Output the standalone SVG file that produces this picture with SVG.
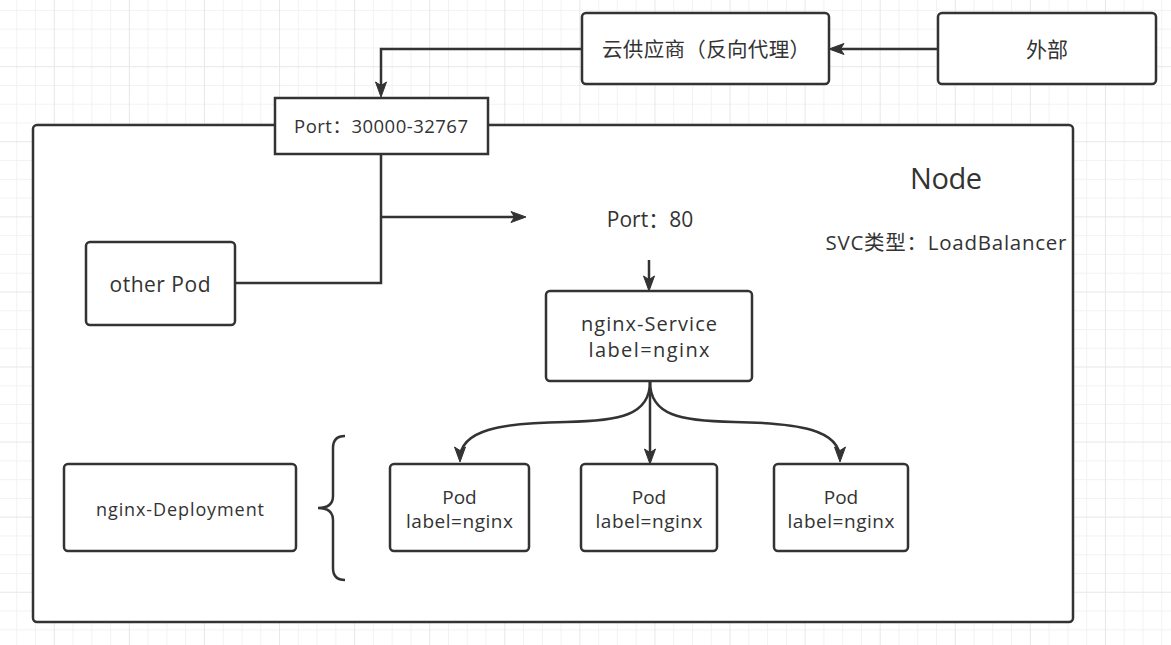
<svg xmlns="http://www.w3.org/2000/svg" width="1171" height="645" viewBox="0 0 1171 645">
<defs>
<style>
.box{fill:#ffffff;stroke:#333333;stroke-width:2.5}
.edge{fill:none;stroke:#333333;stroke-width:2.5}
.arr{marker-end:url(#ah)}
text{font-family:"Open Sans","Noto Sans CJK SC",sans-serif;fill:#333333;text-anchor:middle}
</style>
<pattern id="grid" patternUnits="userSpaceOnUse" x="53.8" y="66.2" width="75.08" height="75.08">
<path d="M19.27,0V75.08M38.04,0V75.08M56.81,0V75.08M0,19.27H75.08M0,38.04H75.08M0,56.81H75.08" stroke="#f2f2f2" stroke-width="1" fill="none"/>
<path d="M0.5,0V75.08M0,0.5H75.08" stroke="#e7e7e7" stroke-width="1" fill="none"/>
</pattern>
<marker id="ah" markerUnits="userSpaceOnUse" markerWidth="16" markerHeight="12" refX="12" refY="5.5" orient="auto" overflow="visible">
<path d="M0,0 L15,5.5 L0,11 L3.5,5.5 Z" fill="#333333" stroke="#333333" stroke-width="1"/>
</marker>
</defs>
<rect width="1171" height="645" fill="#ffffff"/>
<rect width="1171" height="645" fill="url(#grid)"/>

<g id="node-box">
<rect class="box" x="33" y="125" width="1040" height="497" rx="4"/>
<text x="946" y="189" font-size="29" textLength="72">Node</text>
<text x="946" y="250" font-size="20.5" textLength="241">SVC类型：LoadBalancer</text>
</g>

<g id="connectors">
<path class="edge arr" d="M938,49 L832,49"/>
<path class="edge arr" d="M582,49 L381,49 L381,94"/>
<path class="edge" d="M381,154 L381,283 L235,283"/>
<path class="edge arr" d="M381,217 L523,217"/>
<path class="edge arr" d="M649,260 L649,288"/>
<path class="edge arr" d="M650,382 L650,461"/>
<path class="edge arr" d="M650,382 C650,415 620,421 566,422 C500,423 460,430 460,459"/>
<path class="edge arr" d="M650,382 C650,415 680,421 734,422 C800,423 840,430 840,459"/>
</g>

<g id="cloud">
<rect class="box" x="582" y="13" width="247" height="71" rx="4"/>
<text x="706" y="57" font-size="20.5" textLength="208">云供应商（反向代理）</text>
</g>

<g id="external">
<rect class="box" x="938" y="13" width="218" height="71" rx="4"/>
<text x="1047" y="57" font-size="21">外部</text>
</g>

<g id="port-nodeport">
<rect class="box" x="275" y="98" width="213" height="56"/>
<text x="381" y="132.5" font-size="18.5" textLength="174">Port：30000-32767</text>
</g>

<g id="port-80">
<text x="650" y="226.5" font-size="21">Port：80</text>
</g>

<g id="other-pod">
<rect class="box" x="86" y="242" width="149" height="83" rx="4"/>
<text x="160" y="291.5" font-size="21" textLength="101">other Pod</text>
</g>

<g id="nginx-service">
<rect class="box" x="546" y="291" width="206" height="90" rx="4"/>
<text x="649" y="331" font-size="20" textLength="136">nginx-Service</text>
<text x="649" y="357" font-size="20" textLength="121">label=nginx</text>
</g>

<g id="pod-1">
<rect class="box" x="390" y="464" width="139" height="87" rx="4"/>
<text x="459.5" y="504" font-size="19">Pod</text>
<text x="459.5" y="527.5" font-size="19" textLength="107">label=nginx</text>
</g>

<g id="pod-2">
<rect class="box" x="581" y="464" width="136" height="87" rx="4"/>
<text x="649" y="504" font-size="19">Pod</text>
<text x="649" y="527.5" font-size="19" textLength="107">label=nginx</text>
</g>

<g id="pod-3">
<rect class="box" x="774" y="464" width="134" height="87" rx="4"/>
<text x="841" y="504" font-size="19">Pod</text>
<text x="841" y="527.5" font-size="19" textLength="107">label=nginx</text>
</g>

<g id="brace">
<path class="edge" d="M345,436 Q333,436 333,448 L333,496 Q333,508 318,508 Q333,508 333,520 L333,568 Q333,580 345,580"/>
</g>

<g id="nginx-deployment">
<rect class="box" x="64" y="464" width="232" height="87" rx="4"/>
<text x="180" y="516" font-size="18" textLength="168">nginx-Deployment</text>
</g>
</svg>
